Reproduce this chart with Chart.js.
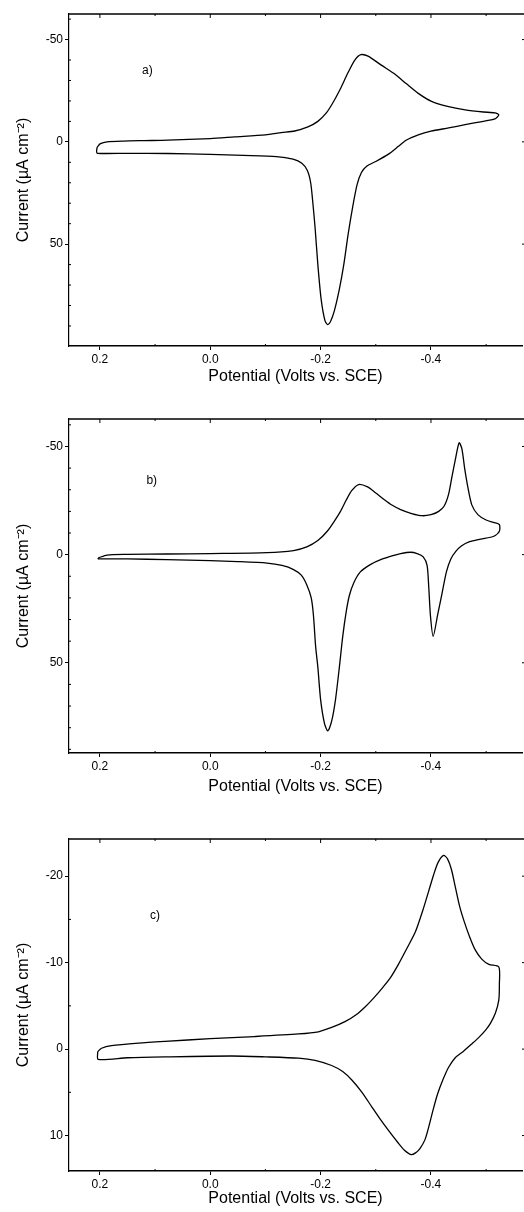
<!DOCTYPE html>
<html><head><meta charset="utf-8">
<script src="https://cdn.jsdelivr.net/npm/chart.js@4.4.0/dist/chart.umd.min.js"></script>
<style>
html,body{margin:0;padding:0;background:#fff;}
body{width:524px;height:1212px;position:relative;overflow:hidden;}
.p{position:absolute;left:0;width:524px;}
canvas{display:block;}
</style></head><body>
<div class="p" style="top:0;height:390px"><canvas id="ca" width="524" height="390"></canvas></div>
<div class="p" style="top:390px;height:410px"><canvas id="cb" width="524" height="410"></canvas></div>
<div class="p" style="top:800px;height:412px"><canvas id="cc" width="524" height="412"></canvas></div>
<script>
// ---------- data ----------
const xMajorTicks = [0.2, 0.0, -0.2, -0.4];
const xMinorTicks = [0.1, -0.1, -0.3, -0.5];
const yMajorTicksAB = [-50, 0, 50];
const yMinorTicksAB = [-60, -40, -30, -20, -10, 10, 20, 30, 40, 60, 70, 80, 90];
const yMajorTicksC = [-20, -10, 0, 10];
const yMinorTicksC = [-15, -5, 5];

const aPotential = [0.205,0.199,0.187,0.157,0.12,0.077,0.0,-0.044,-0.10,-0.129,-0.153,-0.177,-0.195,-0.210,-0.222,-0.235,-0.250,-0.262,-0.273,-0.286,-0.310,-0.335,-0.355,-0.377,-0.401,-0.430,-0.462,-0.495,-0.516,-0.523,
  -0.516,-0.490,-0.462,-0.432,-0.400,-0.377,-0.355,-0.341,-0.323,-0.300,-0.284,-0.274,-0.266,-0.258,-0.250,-0.242,-0.234,-0.225,-0.218,-0.213,-0.208,-0.201,-0.195,-0.190,-0.186,-0.182,-0.176,-0.166,-0.150,-0.120,-0.060,0.0,0.077,0.150,0.205,0.206,0.205];
const aCurrent = [2.6,0.9,0.0,-0.4,-0.6,-0.8,-1.6,-2.4,-3.4,-4.5,-5.3,-7.3,-10.0,-14.0,-19.0,-25.5,-34.0,-40.0,-42.6,-41.9,-37.5,-33.0,-28.5,-23.7,-19.8,-17.3,-15.6,-14.6,-14.2,-13.2,
  -11.2,-9.8,-8.4,-6.8,-5.2,-3.4,-0.8,2.2,6.0,9.6,11.8,15.0,21.0,32.0,45.0,60.0,72.0,82.5,87.8,89.3,87.5,77.0,60.0,42.0,30.0,20.0,14.0,10.5,8.5,7.2,6.6,6.1,5.7,5.6,5.6,4.5,2.6];

const bPotential = [0.203,0.187,0.150,0.079,0.0,-0.103,-0.151,-0.175,-0.195,-0.212,-0.225,-0.236,-0.246,-0.256,-0.269,-0.285,-0.300,-0.315,-0.330,-0.345,-0.365,-0.384,-0.400,-0.414,-0.424,-0.432,-0.438,-0.445,-0.451,-0.456,-0.461,-0.467,-0.474,-0.485,-0.500,-0.515,-0.524,
  -0.524,-0.514,-0.490,-0.470,-0.455,-0.445,-0.436,-0.428,-0.420,-0.412,-0.404,-0.399,-0.396,-0.393,-0.386,-0.375,-0.363,-0.345,-0.333,-0.310,-0.290,-0.272,-0.260,-0.252,-0.246,-0.240,-0.234,-0.227,-0.220,-0.213,-0.207,-0.200,-0.195,-0.191,-0.187,-0.183,-0.175,-0.165,-0.151,-0.130,-0.103,-0.050,0.0,0.079,0.150,0.203,0.203];
const bCurrent = [1.5,0.2,-0.1,-0.3,-0.5,-0.9,-1.9,-3.6,-6.5,-10.8,-15.5,-20.0,-25.0,-29.5,-32.4,-31.3,-28.5,-25.5,-22.8,-20.8,-19.0,-18.0,-18.5,-20.0,-22.5,-28.0,-36.0,-45.0,-51.7,-49.0,-40.0,-31.0,-23.0,-18.5,-16.0,-14.8,-13.9,
  -10.8,-8.5,-7.2,-6.0,-4.0,-1.5,2.0,8.0,18.0,28.0,37.8,28.0,15.0,5.0,1.0,-0.5,-1.1,-0.5,0.3,2.2,4.6,8.0,13.1,19.0,27.0,38.0,52.0,67.0,77.0,81.5,78.0,67.0,52.0,42.5,28.0,20.0,14.0,9.5,6.9,5.0,3.9,3.2,2.8,2.3,2.0,1.9,1.5];

const cPotential = [0.204,0.197,0.179,0.130,0.082,0.0,-0.080,-0.160,-0.196,-0.220,-0.245,-0.265,-0.281,-0.296,-0.311,-0.326,-0.341,-0.356,-0.372,-0.385,-0.396,-0.405,-0.413,-0.423,-0.430,-0.437,-0.444,-0.452,-0.460,-0.470,-0.480,-0.492,-0.505,-0.523,
  -0.524,-0.523,-0.517,-0.508,-0.499,-0.486,-0.474,-0.458,-0.444,-0.432,-0.422,-0.412,-0.404,-0.396,-0.389,-0.380,-0.372,-0.364,-0.352,-0.340,-0.323,-0.308,-0.293,-0.275,-0.257,-0.240,-0.220,-0.190,-0.160,-0.100,-0.039,0.082,0.150,0.203,0.204];
const cCurrent = [0.3,-0.1,-0.4,-0.7,-0.9,-1.2,-1.45,-1.75,-2.0,-2.5,-3.2,-4.0,-4.9,-5.9,-7.0,-8.2,-9.8,-11.6,-13.6,-16.0,-18.3,-20.2,-21.6,-22.4,-22.0,-20.8,-18.8,-16.5,-14.8,-13.0,-11.5,-10.4,-9.8,-9.5,
  -7.5,-5.7,-4.2,-3.0,-2.2,-1.3,-0.6,0.3,1.0,2.1,3.5,5.2,7.0,9.0,10.5,11.5,12.0,12.2,11.7,10.8,9.4,8.1,6.7,5.0,3.6,2.6,1.9,1.3,1.05,0.9,0.8,0.9,1.0,1.2,0.3];

// ---------- rendering ----------
const FAM = '"Liberation Sans", Arial, Helvetica, sans-serif';

const framePlugin = {
  id: 'frame',
  afterDraw(chart, args, o) {
    const {ctx, chartArea: {left, right, top, bottom}, scales: {x, y}} = chart;
    ctx.save();
    ctx.strokeStyle = '#000';
    ctx.lineWidth = 1.5;
    ctx.beginPath(); ctx.moveTo(left, top); ctx.lineTo(524, top); ctx.stroke();
    ctx.lineWidth = 1;
    ctx.beginPath();
    for (const v of o.xMajor) { const p = x.getPixelForValue(v); ctx.moveTo(p, top); ctx.lineTo(p, top + 4); }
    for (const v of o.xMinor) { const p = x.getPixelForValue(v); ctx.moveTo(p, top); ctx.lineTo(p, top + 2); ctx.moveTo(p, bottom); ctx.lineTo(p, bottom - 2); }
    for (const v of o.yMinor) { const p = y.getPixelForValue(v); ctx.moveTo(left, p); ctx.lineTo(left + 2, p); }
    for (const v of o.yMajor) { const p = y.getPixelForValue(v); ctx.moveTo(right, p); ctx.lineTo(right + 2, p); }
    ctx.stroke();
    ctx.font = '12px ' + FAM;
    ctx.fillStyle = '#000';
    ctx.textAlign = 'center';
    ctx.textBaseline = 'middle';
    ctx.fillText(o.label, x.getPixelForValue(o.labelX), y.getPixelForValue(o.labelY));
    ctx.restore();
  }
};

function makePanel(id, pot, cur, p) {
  const pts = pot.map((v, i) => ({x: v, y: cur[i]}));
  new Chart(document.getElementById(id), {
    type: 'scatter',
    data: {datasets: [{data: pts, showLine: true, borderColor: '#000', borderWidth: 1.3, pointRadius: 0, tension: 0.25, fill: false}]},
    options: {
      responsive: false, animation: false,
      layout: {padding: {top: p.padTop, right: 2, left: 0, bottom: 0}},
      plugins: {legend: {display: false}, tooltip: {enabled: false},
        frame: {xMajor: xMajorTicks, xMinor: xMinorTicks, yMajor: p.yMajor, yMinor: p.yMinor, label: p.label, labelX: p.labelX, labelY: p.labelY}},
      scales: {
        x: {type: 'linear', reverse: true, min: -0.565, max: 0.256,
          afterFit: s => { s.height = p.xh; },
          ticks: {stepSize: 0.2, includeBounds: false, color: '#000', font: {size: 12, family: FAM}, padding: 2, maxRotation: 0, autoSkip: false,
            callback: v => (Math.abs(v) < 1e-9 ? 0 : v).toFixed(1)},
          grid: {drawOnChartArea: false, drawTicks: true, tickLength: 4, color: '#000'},
          border: {display: true, color: '#000', width: 1.5},
          title: {display: true, text: 'Potential (Volts vs. SCE)', color: '#000', font: {size: 16, family: FAM}, padding: {top: 0, bottom: 4}}
        },
        y: {type: 'linear', reverse: true, min: p.yMin, max: p.yMax,
          afterFit: s => { s.width = 69; },
          ticks: {stepSize: p.yStep, includeBounds: false, color: '#000', font: {size: 12, family: FAM}, padding: 2,
            callback: v => String(v)},
          grid: {drawOnChartArea: false, drawTicks: true, tickLength: 4, color: '#000'},
          border: {display: true, color: '#000', width: 1.2},
          title: {display: true, text: 'Current (\u00B5A cm\u207B\u00B2)', color: '#000', font: {size: 16, family: FAM}, padding: {top: 14, bottom: 0}}
        }
      }
    },
    plugins: [framePlugin]
  });
}

makePanel('ca', aPotential, aCurrent, {padTop: 14, xh: 44, yMin: -62.5, yMax: 99.8, yStep: 50, yMajor: yMajorTicksAB, yMinor: yMinorTicksAB, label: 'a)', labelX: 0.114, labelY: -35});
makePanel('cb', bPotential, bCurrent, {padTop: 29, xh: 47, yMin: -62.7, yMax: 91.7, yStep: 50, yMajor: yMajorTicksAB, yMinor: yMinorTicksAB, label: 'b)', labelX: 0.106, labelY: -34});
makePanel('cc', cPotential, cCurrent, {padTop: 39, xh: 41, yMin: -24.3, yMax: 14.1, yStep: 10, yMajor: yMajorTicksC, yMinor: yMinorTicksC, label: 'c)', labelX: 0.100, labelY: -15.4});
</script>
</body></html>
